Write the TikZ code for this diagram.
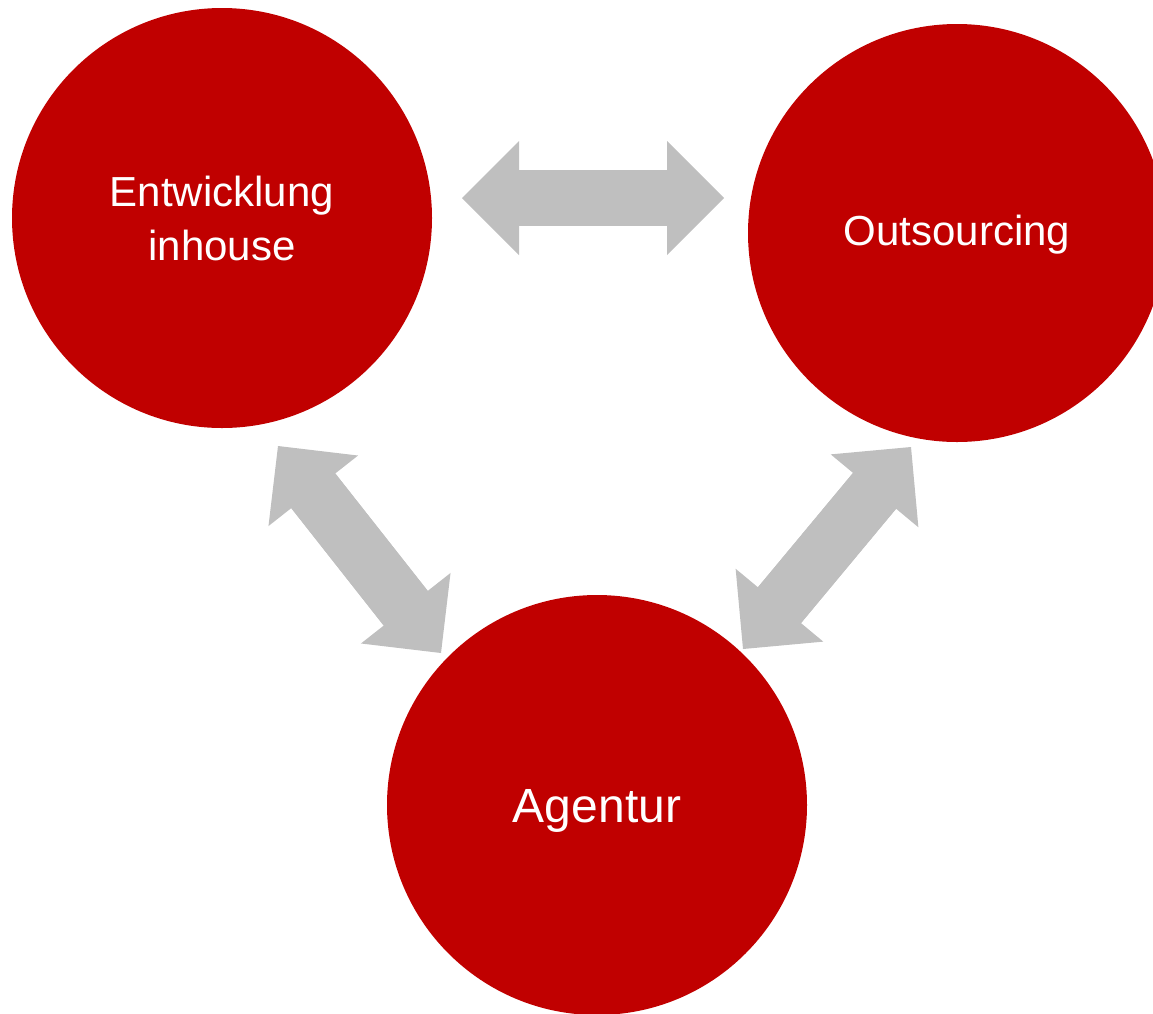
\documentclass[tikz,border=0pt]{standalone}
\usepackage{fontspec}
\setmainfont{Liberation Sans}
\usetikzlibrary{arrows.meta}
\definecolor{darkRed}{RGB}{192,0,0}
\definecolor{lightGray}{RGB}{191,191,191}
\tikzstyle{circNode} = [circle, fill=darkRed, minimum size=420pt, inner sep=0pt, text=white, align=center, font=\fontsize{42}{54}\selectfont]
\tikzstyle{dblArrow} = [draw=lightGray, line width=56pt, postaction={draw=lightGray, -, shorten >=40pt, shorten <=40pt}, {Triangle[length=57pt,width=114pt,line width=0pt,fill=lightGray]}-{Triangle[length=57pt,width=114pt,line width=0pt,fill=lightGray]}]

\begin{document}
\begin{tikzpicture}[x=1pt, y=-1pt]
        \useasboundingbox (0,0) rectangle (1153,1013);
        \clip (0,0) rectangle (1153,1013);
        \node (inhouse) [circNode] at (222,218) {Entwicklung\\inhouse};
        \node (outsrc) [circNode, minimum size=418pt, text height=34pt] at (957,233) {Outsourcing};
        \node (agentur) [circNode, text height=44pt, font=\fontsize{48}{58}\selectfont] at (597,805) {Agentur};
        
        \coordinate (inhouseE) at (462,198);
        \coordinate (outsrcW) at (724,198);
        \coordinate (inhouseS) at (278,446);
        \coordinate (agenturNW) at (441,653);
        \coordinate (outsrcS) at (911,447);
        \coordinate (agenturNE) at (743,649);
        
        \draw [dblArrow] (inhouseE) -- (outsrcW);
        \draw [dblArrow] (inhouseS) -- (agenturNW);
        \draw [dblArrow] (outsrcS) -- (agenturNE);
        
\end{tikzpicture}
\end{document}
